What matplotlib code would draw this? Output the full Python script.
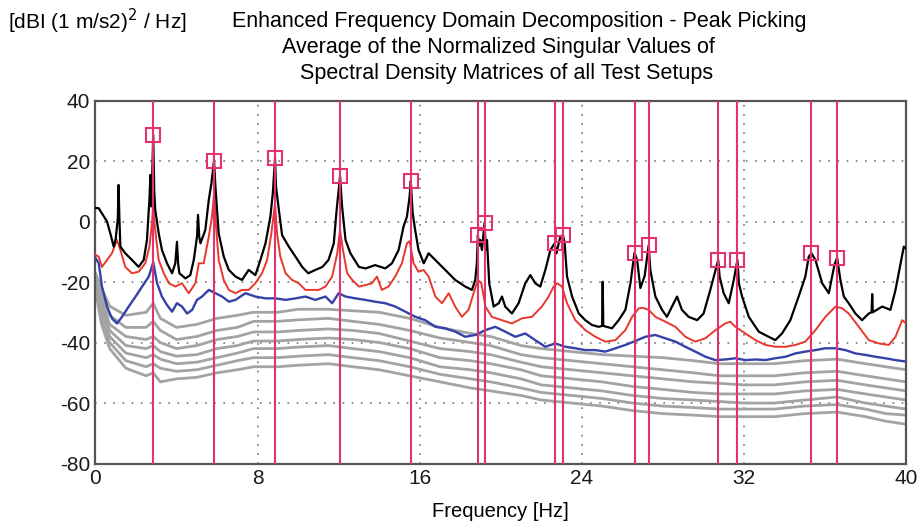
import matplotlib.pyplot as plt
import numpy as np

plt.rcParams['font.family'] = ['Liberation Sans', 'DejaVu Sans']
plt.rcParams['axes.unicode_minus'] = False

# Picked modal peaks (frequency in Hz, level in dB)
peak_freq = [2.85, 5.85, 8.86, 12.07, 15.56, 18.87, 19.2, 22.66, 23.07,
             26.6, 27.3, 30.73, 31.68, 35.33, 36.6]
peak_db = [28.6, 20.1, 20.9, 15.0, 13.4, -4.5, -0.4, -7.2, -4.5,
           -10.3, -7.8, -12.7, -12.7, -10.5, -12.0]

# First singular value (black)
sv1_freq = [0.0, 0.16, 0.32, 0.57, 0.73, 0.9, 1.0, 1.1, 1.14, 1.18, 1.23, 1.47, 1.8, 2.13,
            2.38, 2.54, 2.66, 2.71, 2.76, 2.85, 2.9, 2.95, 3.12, 3.28, 3.53, 3.78, 3.94,
            4.02, 4.08, 4.14, 4.44, 4.68, 4.85, 5.01, 5.06, 5.12, 5.18, 5.42, 5.59, 5.72,
            5.85, 5.92, 6.08, 6.33, 6.58, 6.91, 7.23, 7.56, 7.89, 8.14, 8.39, 8.63, 8.75,
            8.86, 8.91, 9.05, 9.21, 9.54, 9.87, 10.2, 10.5, 10.85, 11.2, 11.5, 11.76, 11.9,
            12.07, 12.17, 12.34, 12.58, 13.0, 13.33, 13.8, 14.3, 14.63, 14.96, 15.2, 15.37,
            15.5, 15.56, 15.65, 15.75, 15.94, 16.2, 16.44, 16.77, 17.26, 17.75, 18.25,
            18.58, 18.74, 18.82, 18.87, 18.93, 18.99, 19.07, 19.2, 19.26, 19.32, 19.43,
            19.65, 19.9, 20.06, 20.22, 20.55, 20.88, 21.21, 21.46, 21.7, 21.95, 22.2,
            22.45, 22.66, 22.75, 22.85, 22.94, 23.07, 23.15, 23.27, 23.52, 23.85, 24.17,
            24.5, 24.83, 25.0, 25.03, 25.06, 25.49, 25.82, 26.15, 26.4, 26.6, 26.73, 26.89,
            27.1, 27.3, 27.38, 27.63, 27.96, 28.2, 28.45, 28.7, 28.94, 29.27, 29.69, 30.01,
            30.34, 30.73, 30.8, 31.0, 31.25, 31.5, 31.68, 31.75, 31.91, 32.24, 32.73, 33.22,
            33.55, 33.88, 34.29, 34.7, 35.03, 35.2, 35.33, 35.53, 35.86, 36.19, 36.35,
            36.48, 36.6, 36.76, 36.93, 37.17, 37.5, 37.83, 38.16, 38.3, 38.33, 38.36, 38.82,
            39.23, 39.48, 39.73, 39.89, 40.0]
sv1_db = [4.5, 4.4, 2.7, 0.0, -3.9, -8.3, -5.6, 1.0, 12.1, 1.0, -8.3, -10.5, -12.7, -15.0,
          -12.7, -6.1, 7.1, 15.4, 5.0, 28.6, 10.0, 3.8, -3.9, -9.4, -13.8, -17.1, -13.8,
          -6.7, -14.0, -17.1, -18.8, -17.7, -12.7, -5.0, 2.2, -5.0, -7.2, -2.8, 7.1, 12.6,
          20.1, 11.5, -3.9, -11.6, -16.0, -18.2, -19.3, -16.0, -17.7, -12.7, -7.2, 1.6, 9.3,
          20.9, 11.5, 3.8, -4.5, -8.3, -11.6, -15.0, -17.1, -16.0, -15.0, -12.7, -7.2, 3.8,
          15.0, 4.9, -6.1, -10.5, -15.0, -15.5, -14.4, -15.5, -13.8, -9.4, -1.7, 1.6,
          8.2, 13.4, 3.0, -1.7, -9.4, -13.8, -10.5, -12.7, -16.0, -19.3, -21.5,
          -22.6, -19.3, -13.8, -4.5, -8.0, -6.1, -9.4, -0.4, -9.4, -6.1, -20.4,
          -28.1, -27.0, -24.8, -28.1, -30.4, -27.0, -20.4, -17.7, -20.4, -21.5, -16.0,
          -9.4, -7.2, -10.5, -7.5, -5.0, -4.5, -7.0, -18.2, -24.8, -30.4, -32.6,
          -34.2, -34.8, -34.5, -19.9, -34.5, -35.3, -32.6, -29.2, -20.4, -10.3, -12.7, -22.0,
          -18.0, -7.8, -16.0, -24.8, -29.2, -31.5, -28.1, -24.8, -29.2, -31.5, -32.6, -30.4,
          -22.6, -12.7, -18.2, -23.7, -27.0, -19.3, -12.7, -20.4, -24.8, -31.5, -36.4, -38.1,
          -39.2, -37.0, -32.6, -24.8, -18.2, -11.6, -10.5, -12.7, -20.4, -23.7, -18.2,
          -14.0, -12.0, -19.3, -24.8, -27.0, -30.4, -32.6, -30.4, -30.0, -24.0, -30.0, -28.1,
          -29.2, -22.6, -13.8, -8.3, -8.9]

# Second singular value (red)
sv2_freq = [0.0, 0.16, 0.32, 0.57, 0.81, 1.06, 1.23, 1.47, 1.8, 2.13, 2.46, 2.66, 2.79, 2.85,
            2.92, 3.0, 3.12, 3.37, 3.62, 3.94, 4.27, 4.6, 4.93, 5.1, 5.34, 5.59, 5.75, 5.85,
            5.95, 6.08, 6.33, 6.58, 6.91, 7.23, 7.56, 7.89, 8.22, 8.47, 8.68, 8.86, 8.96,
            9.12, 9.38, 9.7, 10.03, 10.36, 10.69, 11.02, 11.35, 11.68, 11.93, 12.07, 12.21,
            12.42, 12.67, 13.0, 13.33, 13.64, 13.89, 14.13, 14.46, 14.79, 15.12, 15.37, 15.5,
            15.7, 15.94, 16.19, 16.44, 16.77, 17.1, 17.43, 17.75, 18.08, 18.41, 18.66, 18.87,
            19.04, 19.24, 19.56, 20.06, 20.55, 21.05, 21.54, 22.03, 22.36, 22.61, 22.78,
            23.02, 23.27, 23.68, 24.17, 24.67, 25.16, 25.66, 26.15, 26.48, 26.81, 27.0,
            27.3, 27.63, 28.12, 28.62, 29.11, 29.6, 30.1, 30.59, 31.08, 31.33, 31.58, 32.07,
            32.57, 33.06, 33.55, 34.05, 34.54, 35.03, 35.53, 36.02, 36.52, 36.85, 37.17,
            37.67, 38.16, 38.66, 39.15, 39.48, 39.81, 40.0]
sv2_db = [-11.0, -11.6, -15.0, -12.7, -10.5, -6.1, -9.4, -15.0, -17.1, -16.6, -13.8, -8.3,
          -0.6, 6.0, -1.0, -6.0, -12.7, -17.1, -20.4, -21.5, -20.4, -23.7, -20.4, -13.8,
          -13.8, -5.0, 1.6, 9.0, -1.7, -12.7, -19.3, -22.6, -23.7, -22.6, -22.6, -20.4,
          -17.1, -12.7, -3.9, 6.0, -3.9, -11.6, -17.1, -19.3, -20.4, -22.6, -22.6, -22.6,
          -21.5, -18.2, -10.5, -2.8, -9.4, -17.1, -19.3, -21.5, -21.0, -20.4, -18.2, -22.6,
          -21.5, -18.2, -13.8, -7.2, -6.5, -13.8, -16.6, -16.0, -18.2, -24.8, -27.0, -23.7,
          -28.1, -31.5, -29.2, -23.7, -19.3, -20.4, -28.1, -31.5, -32.6, -33.7, -32.0,
          -31.5, -28.1, -24.8, -21.5, -20.4, -21.5, -27.0, -32.6, -35.9, -38.1, -39.7,
          -39.2, -35.9, -31.5, -28.7, -28.5, -29.2, -31.5, -33.1, -34.8, -38.1, -39.7,
          -38.6, -35.9, -33.7, -33.1, -34.8, -37.0, -39.2, -40.8, -41.4, -41.4, -40.8,
          -39.7, -35.9, -31.5, -28.1, -28.7, -30.4, -34.8, -39.2, -40.3, -40.8, -38.1,
          -32.6, -33.7]

# Third singular value (blue)
sv3_freq = [0.0, 0.16, 0.32, 0.57, 0.81, 1.06, 1.31, 1.64, 1.98, 2.3, 2.63, 2.85, 3.04,
            3.28, 3.53, 3.78, 4.02, 4.27, 4.52, 4.77, 5.01, 5.26, 5.59, 5.92, 6.25, 6.58,
            6.91, 7.4, 7.89, 8.39, 8.88, 9.38, 9.87, 10.36, 10.85, 11.35, 11.68, 12.0,
            12.34, 12.83, 13.31, 13.8, 14.3, 14.79, 15.29, 15.78, 16.27, 16.77, 17.26,
            17.75, 18.25, 18.74, 19.24, 19.73, 20.22, 20.72, 21.21, 21.7, 22.2, 22.69,
            23.19, 23.68, 24.17, 24.67, 25.16, 25.66, 26.15, 26.64, 27.13, 27.63, 28.12,
            28.62, 29.11, 29.6, 30.1, 30.59, 31.08, 31.58, 32.07, 32.57, 33.06, 33.55,
            34.05, 34.54, 35.03, 35.53, 36.02, 36.52, 37.01, 37.5, 38.0, 38.49, 38.98,
            39.48, 40.0]
sv3_db = [-12.0, -13.8, -21.5, -28.1, -32.0, -33.7, -31.5, -28.1, -24.8, -21.5, -18.2,
          -13.5, -20.4, -24.8, -27.6, -29.8, -27.0, -28.1, -30.4, -29.2, -25.9, -24.8,
          -22.6, -23.7, -24.8, -26.5, -25.9, -23.7, -24.8, -25.4, -25.4, -25.9, -25.4,
          -24.8, -25.9, -24.8, -27.0, -23.7, -24.8, -25.4, -25.9, -26.5, -27.0, -28.1,
          -29.8, -31.5, -32.6, -34.8, -35.3, -36.4, -38.1, -37.5, -35.9, -34.8, -36.4,
          -38.1, -37.0, -39.2, -41.4, -40.3, -41.4, -41.9, -42.5, -42.5, -43.0, -41.9,
          -40.8, -39.5, -38.1, -37.5, -38.6, -39.7, -41.4, -43.0, -44.7, -45.8, -45.6,
          -45.2, -45.8, -45.6, -45.8, -45.2, -44.7, -43.6, -43.0, -42.5, -41.9, -41.9,
          -42.5, -43.6, -44.1, -44.7, -45.2, -45.8, -46.3]

# Higher singular values (grey), all on a common frequency grid
grey_freq = [0.0, 0.3, 0.7, 1.5, 2.5, 2.85, 3.2, 4.0, 5.0, 6.0, 7.0, 7.8, 9.0, 10.0, 11.5,
             12.7, 14.0, 15.5, 17.0, 18.5, 19.5, 21.0, 22.0, 23.5, 25.0, 26.5, 28.0, 29.5,
             30.8, 32.0, 33.5, 35.0, 36.6, 38.0, 39.0, 40.0]
sv4_db = [-17, -22, -28, -31, -30, -27, -32, -35, -34, -32, -31, -30, -30, -29, -29,
          -29.5, -30, -32, -35, -37, -38, -41, -42, -43, -44, -44.5, -45, -46, -47, -47,
          -47, -46, -45.5, -47, -48, -49]
sv5_db = [-18, -24, -31, -35, -35, -33, -36, -39, -38, -36, -35, -33, -33, -32.5, -32,
          -33, -34, -36, -38.5, -40, -41, -44, -45, -46, -47, -48, -49, -50, -51, -51,
          -51, -50, -49.5, -51, -52, -53]
sv6_db = [-19, -26, -34, -38, -39, -38, -40, -42, -41, -39, -38, -36.5, -36.5, -36, -35.5,
          -36, -37, -39.5, -42, -43, -44, -46.5, -48, -49, -50, -51, -52, -53, -53.5, -54,
          -54, -53, -52.5, -54, -55, -56]
sv7_db = [-20, -28, -36, -41, -42, -41, -43, -44.5, -44, -42, -41, -39.5, -39.5, -39,
          -38.5, -39, -40, -42, -45, -46, -47, -49, -51, -52, -53, -54.5, -55.5, -56.5,
          -57, -57, -57, -56, -55.5, -57, -58, -59]
sv8_db = [-21, -30, -38, -43.5, -45, -44, -45.5, -47, -46.5, -45, -43.5, -42, -42, -41.5,
          -41, -42, -43, -45, -48, -49, -50, -52, -54, -55, -56, -57.5, -58.5, -59, -59.5,
          -60, -60, -59, -58, -60, -61, -62]
sv9_db = [-22, -32, -40, -46, -48, -47, -48.5, -49.5, -49, -47.5, -46, -45, -45, -44.5,
          -44, -45, -46, -48, -50.5, -52, -53, -55, -56.5, -57.5, -58.5, -60, -61, -61.5,
          -62, -62, -62, -61, -60.5, -62, -63.5, -64]
sv10_db = [-23, -34, -42, -48.5, -51, -50, -53, -52, -51.5, -50, -49, -48, -48, -47.5,
           -47, -48, -49, -51, -53, -55, -56, -57.5, -59, -60, -61, -62.5, -63.5, -64,
           -64.5, -64.5, -64.5, -63.5, -63, -64.5, -66, -67]

x_ticks = [0, 8, 16, 24, 32, 40]
y_ticks = [-80, -60, -40, -20, 0, 20, 40]

PINK = '#e4336c'

fig = plt.figure(figsize=(9.19, 5.22), dpi=100)
ax = fig.add_axes([0.1039, 0.112, 0.882, 0.6954])

# grey curves first, the dominant singular values on top
for grey_db in [sv10_db, sv9_db, sv8_db, sv7_db, sv6_db, sv5_db, sv4_db]:
    ax.plot(grey_freq, grey_db, color='#a3a3a3', lw=2.0, zorder=2)
ax.plot(sv3_freq, sv3_db, color='#3441a8', lw=1.7, zorder=3)
ax.plot(sv2_freq, sv2_db, color='#e8372c', lw=1.4, zorder=4)
ax.plot(sv1_freq, sv1_db, color='black', lw=1.6, zorder=5)

# peak picking: vertical lines and square markers
for f in peak_freq:
    ax.axvline(f, color=PINK, lw=1.5, zorder=6)
ax.plot(peak_freq, peak_db, linestyle='none', marker='s', markersize=10,
        markerfacecolor='none', markeredgecolor=PINK, markeredgewidth=1.5, zorder=7)

ax.set_xlim(0, 40)
ax.set_ylim(-80, 40)
ax.set_xticks(x_ticks)
ax.set_yticks(y_ticks)
ax.tick_params(length=0, labelsize=15, pad=4, colors='#1a1a1a')

# dotted grid only at the inner tick positions
for gx in x_ticks[1:-1]:
    ax.axvline(gx, color='#777777', lw=1.2, linestyle=(0, (1, 4.5)), zorder=1)
for gy in y_ticks[1:-1]:
    ax.axhline(gy, color='#777777', lw=1.2, linestyle=(0, (1, 4.5)), zorder=1)

for spine in ax.spines.values():
    spine.set_color('#555555')
    spine.set_linewidth(1.6)

ax.set_xlabel('Frequency [Hz]', fontsize=14.5, labelpad=10)

fig.text(8 / 919, 1 - 21 / 522, '[dBI (1 m/s2)$^2$ / Hz]', fontsize=15, va='center', ha='left')
fig.text(232 / 919, 1 - 22 / 522, 'Enhanced Frequency Domain Decomposition - Peak Picking',
         fontsize=15.5, va='center', ha='left')
fig.text(498 / 919, 1 - 48 / 522, 'Average of the Normalized Singular Values of',
         fontsize=15.5, va='center', ha='center')
fig.text(507 / 919, 1 - 74 / 522, 'Spectral Density Matrices of all Test Setups',
         fontsize=15.5, va='center', ha='center')

fig.savefig('out.png', dpi=100)
